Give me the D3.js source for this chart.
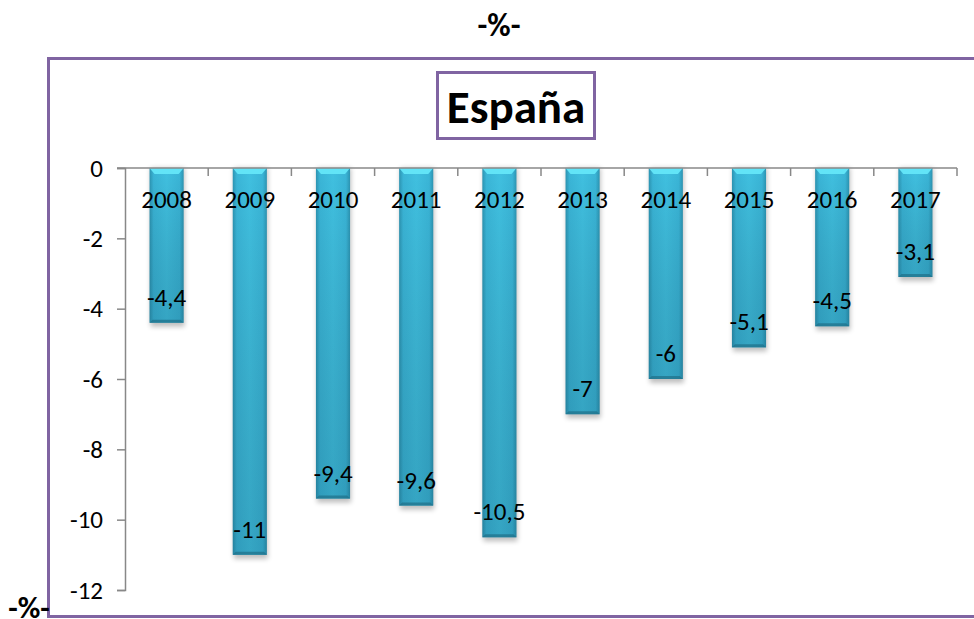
<!DOCTYPE html>
<html>
<head>
<meta charset="utf-8">
<script src="https://cdn.jsdelivr.net/npm/d3@7"></script>
<style>
  html, body { margin: 0; padding: 0; background: #fff; }
  svg { display: block; font-family: Carlito, Lato, "Open Sans", sans-serif; }
</style>
</head>
<body>
<svg id="chart" width="974" height="619"></svg>
<script>
// Déficit público de España, % del PIB
const years = ["2008", "2009", "2010", "2011", "2012", "2013", "2014", "2015", "2016", "2017"];
const deficit = [-4.4, -11, -9.4, -9.6, -10.5, -7, -6, -5.1, -4.5, -3.1];
const yTicks = [0, -2, -4, -6, -8, -10, -12];
const titleText = "España";
const unitText = "-%-";

const svg = d3.select("#chart");
const purple = "#8064a2";
const fontStack = "Carlito, Lato, 'Open Sans', sans-serif";
const labelSize = 25;

const x = d3.scaleBand().domain(years).range([125, 957]).paddingInner(0).paddingOuter(0);
const y = d3.scaleLinear().domain([0, -12]).range([168, 590]);
const barW = x.bandwidth() * 0.41;
const barX = d => x(d.yr) + (x.bandwidth() - barW) / 2;

// gradients
const defs = svg.append("defs");
const hg = defs.append("linearGradient").attr("id", "barH").attr("x1", 0).attr("x2", 1).attr("y1", 0).attr("y2", 0);
hg.append("stop").attr("offset", 0).attr("stop-color", "#2c94b2");
hg.append("stop").attr("offset", 0.12).attr("stop-color", "#3ab5d7");
hg.append("stop").attr("offset", 0.5).attr("stop-color", "#40c0e0");
hg.append("stop").attr("offset", 0.88).attr("stop-color", "#3ab5d7");
hg.append("stop").attr("offset", 1).attr("stop-color", "#2c94b2");
const vg = defs.append("linearGradient").attr("id", "barV").attr("x1", 0).attr("x2", 0).attr("y1", 0).attr("y2", 1);
vg.append("stop").attr("offset", 0).attr("stop-color", "#000").attr("stop-opacity", 0);
vg.append("stop").attr("offset", 1).attr("stop-color", "#0a3a50").attr("stop-opacity", 0.2);
const sh = defs.append("filter").attr("id", "shadow").attr("x", "-20%").attr("y", "-5%").attr("width", "140%").attr("height", "115%");
sh.append("feGaussianBlur").attr("stdDeviation", 2.5);

// outer frame
svg.append("rect").attr("x", 48.5).attr("y", 58.5).attr("width", 940).attr("height", 558)
  .attr("fill", "none").attr("stroke", purple).attr("stroke-width", 3);

// unit labels
svg.append("text").attr("x", 499).attr("y", 36).attr("text-anchor", "middle")
  .attr("font-weight", "bold").attr("font-size", 32).text(unitText);
svg.append("text").attr("x", 29).attr("y", 618).attr("text-anchor", "middle")
  .attr("font-weight", "bold").attr("font-size", 31).text(unitText);

// title box
svg.append("rect").attr("x", 437.5).attr("y", 72.5).attr("width", 157).attr("height", 66)
  .attr("fill", "#fff").attr("stroke", purple).attr("stroke-width", 3);
svg.append("text").attr("x", 516).attr("y", 123).attr("text-anchor", "middle")
  .attr("font-weight", "bold").attr("font-size", 47).text(titleText);

// bars
const bars = svg.append("g");
const data = years.map((yr, i) => ({ yr, v: deficit[i] }));
bars.selectAll("rect.sh").data(data).enter().append("rect")
  .attr("x", d => barX(d) + 1)
  .attr("y", y(0)).attr("width", barW)
  .attr("height", d => y(d.v) - y(0) + 4)
  .attr("fill", "#000").attr("opacity", 0.25).attr("filter", "url(#shadow)");
bars.selectAll("rect.b").data(data).enter().append("rect")
  .attr("x", barX)
  .attr("y", y(0)).attr("width", barW)
  .attr("height", d => y(d.v) - y(0))
  .attr("fill", "url(#barH)");
bars.selectAll("rect.v").data(data).enter().append("rect")
  .attr("x", barX)
  .attr("y", y(0)).attr("width", barW)
  .attr("height", d => y(d.v) - y(0))
  .attr("fill", "url(#barV)");
// bevelled top and bottom edges
bars.selectAll("path.top").data(data).enter().append("path")
  .attr("d", d => {
    const x0 = barX(d), x1 = x0 + barW, t = y(0);
    return `M${x0},${t}L${x1},${t}L${x1 - 5},${t + 6}L${x0 + 5},${t + 6}Z`;
  })
  .attr("fill", "#62e4f7");
bars.selectAll("path.bot").data(data).enter().append("path")
  .attr("d", d => {
    const x0 = barX(d), x1 = x0 + barW, b = y(d.v);
    return `M${x0},${b}L${x1},${b}L${x1 - 3},${b - 3}L${x0 + 3},${b - 3}Z`;
  })
  .attr("fill", "#1f6f88").attr("opacity", 0.7);

// axes
const xAxis = svg.append("g").attr("transform", `translate(0,${y(0)})`)
  .call(d3.axisBottom(x).tickSize(0).tickPadding(22));
xAxis.select(".domain").attr("stroke", "#888").attr("stroke-width", 1.5).attr("d", "M117,0H957");
xAxis.selectAll(".tick text").attr("font-size", labelSize).attr("fill", "#000").attr("font-family", fontStack);
// category boundary ticks
svg.append("g").selectAll("line").data(years).enter().append("line")
  .attr("x1", d => x(d) + x.bandwidth()).attr("x2", d => x(d) + x.bandwidth())
  .attr("y1", y(0)).attr("y2", y(0) + 8).attr("stroke", "#888").attr("stroke-width", 1.5);

const yAxis = svg.append("g").attr("transform", "translate(125,0)")
  .call(d3.axisLeft(y).tickValues(yTicks).tickSize(8).tickPadding(14).tickFormat(d => String(d)));
yAxis.select(".domain").attr("stroke", "#888").attr("stroke-width", 1.5);
yAxis.selectAll(".tick line").attr("stroke", "#888").attr("stroke-width", 1.5);
yAxis.selectAll(".tick text").attr("font-size", labelSize).attr("fill", "#000").attr("font-family", fontStack);

// value labels inside the bar ends
svg.append("g").selectAll("text").data(data).enter().append("text")
  .attr("x", d => x(d.yr) + x.bandwidth() / 2)
  .attr("y", d => y(d.v) - 17)
  .attr("text-anchor", "middle").attr("font-size", labelSize).attr("fill", "#000")
  .text(d => String(d.v).replace(".", ","));
</script>
</body>
</html>
